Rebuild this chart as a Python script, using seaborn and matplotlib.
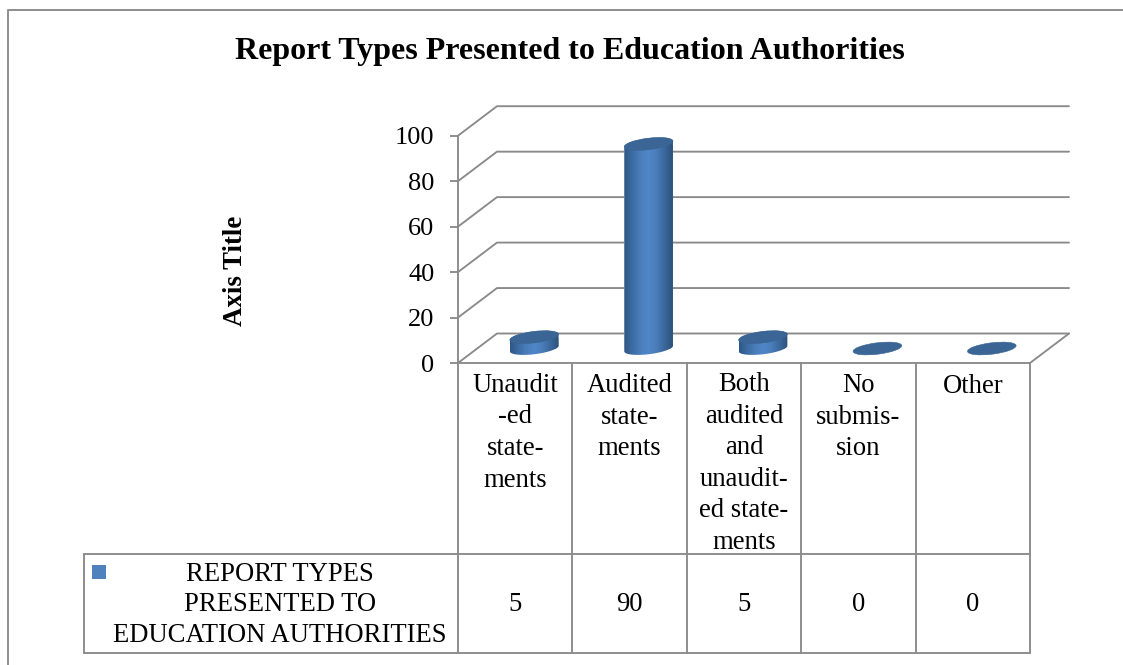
import numpy as np
import pandas as pd
import seaborn as sns
import matplotlib
matplotlib.use("Agg")
import matplotlib.pyplot as plt
from matplotlib.colors import LinearSegmentedColormap
from matplotlib.patches import Ellipse, Rectangle
from matplotlib.path import Path
from matplotlib.transforms import IdentityTransform

# Chart content
title = "Report Types Presented to Education Authorities"
axis_title = "Axis Title"
categories = ["Unaudited statements", "Audited statements", "Both", "No submission", "Other"]
category_labels = [
    "Unaudit\n-ed\nstate-\nments",
    "Audited\nstate-\nments",
    "Both\naudited\nand\nunaudit-\ned state-\nments",
    "No\nsubmis-\nsion",
    "Other",
]
values = [5, 90, 5, 0, 0]
y_ticks = [0, 20, 40, 60, 80, 100]
series_label = "REPORT TYPES\nPRESENTED TO\nEDUCATION AUTHORITIES"

# Layout, in pixels from the top-left corner
W, H = 1123, 665
PLOT_L, PLOT_R, PLOT_B, PLOT_T = 458, 1030, 363, 135.7
DEPTH_X, DEPTH_Y = 39, 29.5
BAR_SHIFT_X, BAR_SHIFT_Y = 19, 14.5
ROW_TOP, TABLE_B, TABLE_L = 553.5, 653, 84

GREY = "#8a8a8a"
LW = 1.35
KEY_BLUE = "#4f81bd"
CAP_BLUE = "#3a6594"
FONT = ["Liberation Serif", "DejaVu Serif"]
TEXT_SIZE = 19.2
CATEGORY_STEP = 31.2

sns.set_theme(style="white")
plt.rcParams["font.family"] = FONT

fig = plt.figure(figsize=(W / 100, H / 100), dpi=100, facecolor="white")


def axes_from_pixels(left, right, bottom, top, **kw):
    return fig.add_axes([left / W, 1 - bottom / H, (right - left) / W, (bottom - top) / H], **kw)


# Overlay in pixel units for the outer frame and the data table
sheet = fig.add_axes([0, 0, 1, 1], zorder=0)
sheet.set_xlim(0, W)
sheet.set_ylim(H, 0)
sheet.axis("off")
sheet.plot([7.5, 7.5, W], [H, 9.5, 9.5], color=GREY, lw=LW, clip_on=False)

cell_w = (PLOT_R - PLOT_L) / len(categories)
for i in range(len(categories) + 1):
    x = PLOT_L + i * cell_w
    sheet.plot([x, x], [PLOT_B, TABLE_B], color=GREY, lw=LW)
sheet.plot([TABLE_L, PLOT_R], [ROW_TOP, ROW_TOP], color=GREY, lw=LW)
sheet.plot([TABLE_L, PLOT_R], [TABLE_B, TABLE_B], color=GREY, lw=LW)
sheet.plot([TABLE_L, TABLE_L], [ROW_TOP, TABLE_B], color=GREY, lw=LW)

for i, (label, value) in enumerate(zip(category_labels, values)):
    cx = PLOT_L + (i + 0.5) * cell_w
    # Multi-line text is anchored on the baseline of its last line
    last_baseline = 393 + label.count("\n") * CATEGORY_STEP
    sheet.text(cx, last_baseline, label, ha="center", va="baseline", fontsize=TEXT_SIZE,
               color="black", linespacing=1.345)
    sheet.text(cx, 611, str(value), ha="center", va="baseline", fontsize=TEXT_SIZE, color="black")

sheet.add_patch(Rectangle((92, 565), 14, 14, facecolor=KEY_BLUE, edgecolor="none"))
sheet.text(280, 642, series_label, ha="center", va="baseline", fontsize=TEXT_SIZE, color="black",
           linespacing=1.3)
sheet.text(570, 59.5, title, ha="center", va="baseline", fontsize=23, fontweight="bold", color="black")
sheet.text(236, 271, axis_title, ha="center", va="center", rotation=90, fontsize=19.4,
           fontweight="bold", color="black")

# Front plane: value axis, floor and the receding gridlines
front = axes_from_pixels(PLOT_L, PLOT_R, PLOT_B, PLOT_T, zorder=1)
front.patch.set_alpha(0)
front.set_xlim(-0.5, len(categories) - 0.5)
front.set_ylim(0, 100)
front.set_xticks([])
front.set_yticks(y_ticks)
front.tick_params(axis="y", left=True, length=6, width=LW, color=GREY, pad=11, labelsize=19,
                  labelcolor="black")
for name, spine in front.spines.items():
    spine.set_visible(name == "left")
    spine.set_color(GREY)
    spine.set_linewidth(LW)

dx = DEPTH_X / cell_w
dy = DEPTH_Y / ((PLOT_B - PLOT_T) / 100)
x0, x1 = front.get_xlim()
for t in y_ticks:
    front.plot([x0, x0 + dx, x1 + dx], [t, t + dy, t + dy], color=GREY, lw=LW, clip_on=False)
front.plot([x0, x1, x1 + dx], [0, 0, dy], color=GREY, lw=LW, clip_on=False)

# Bars sit on a plane halfway into the floor
bars = axes_from_pixels(PLOT_L + BAR_SHIFT_X, PLOT_R + BAR_SHIFT_X,
                        PLOT_B - BAR_SHIFT_Y, PLOT_T - BAR_SHIFT_Y, zorder=2)
bars.patch.set_alpha(0)
frame = pd.DataFrame({"category": categories, "value": values})
sns.barplot(data=frame, x="category", y="value", color=KEY_BLUE, width=0.428, saturation=1, ax=bars)
bars.set_xlim(-0.5, len(categories) - 0.5)
bars.set_ylim(0, 100)
bars.axis("off")

shade = LinearSegmentedColormap.from_list(
    "cylinder", ["#2e5685", "#3c6ca3", "#4a7dba", "#5087c8", "#4a7cb8", "#3a679c", "#2d5078"])
ramp = np.linspace(0, 1, 256)[None, :]

A_PX, B_PX, TILT = 24.5, 5.7, np.deg2rad(7)


def ring(center, t):
    px = A_PX * np.cos(t)
    py = B_PX * np.sin(t)
    return np.column_stack([center[0] + px * np.cos(TILT) - py * np.sin(TILT),
                            center[1] + px * np.sin(TILT) + py * np.cos(TILT)])


for patch in list(bars.patches):
    cx = patch.get_x() + patch.get_width() / 2
    height = patch.get_height()
    foot = bars.transData.transform((cx, 0))
    head = bars.transData.transform((cx, height))

    # Cylinder wall: lower half of the base joined to the upper half of the cap
    outline = np.vstack([ring(foot, np.linspace(np.pi, 2 * np.pi, 60)),
                         ring(head, np.linspace(0, np.pi, 60))])
    wall = Path(np.vstack([outline, outline[0]]), closed=True)
    patch.set_clip_path(wall, IdentityTransform())

    if height > 0:
        span = bars.transData.inverted().transform((foot[0] + A_PX, foot[1] - 3 * B_PX))
        img = bars.imshow(ramp, cmap=shade, aspect="auto", interpolation="bilinear", zorder=3,
                          extent=[patch.get_x(), patch.get_x() + patch.get_width(),
                                  span[1], height + 6])
        img.set_clip_box(fig.bbox)
        img.set_clip_path(wall, IdentityTransform())

    cap = Ellipse(head, 2 * A_PX, 2 * B_PX, angle=np.rad2deg(TILT), facecolor=CAP_BLUE,
                  edgecolor=CAP_BLUE, lw=0.4, transform=IdentityTransform(), zorder=4, clip_on=False)
    bars.add_artist(cap)

bars.set_xlim(-0.5, len(categories) - 0.5)
bars.set_ylim(0, 100)

fig.savefig("out.png", dpi=100, facecolor="white")
